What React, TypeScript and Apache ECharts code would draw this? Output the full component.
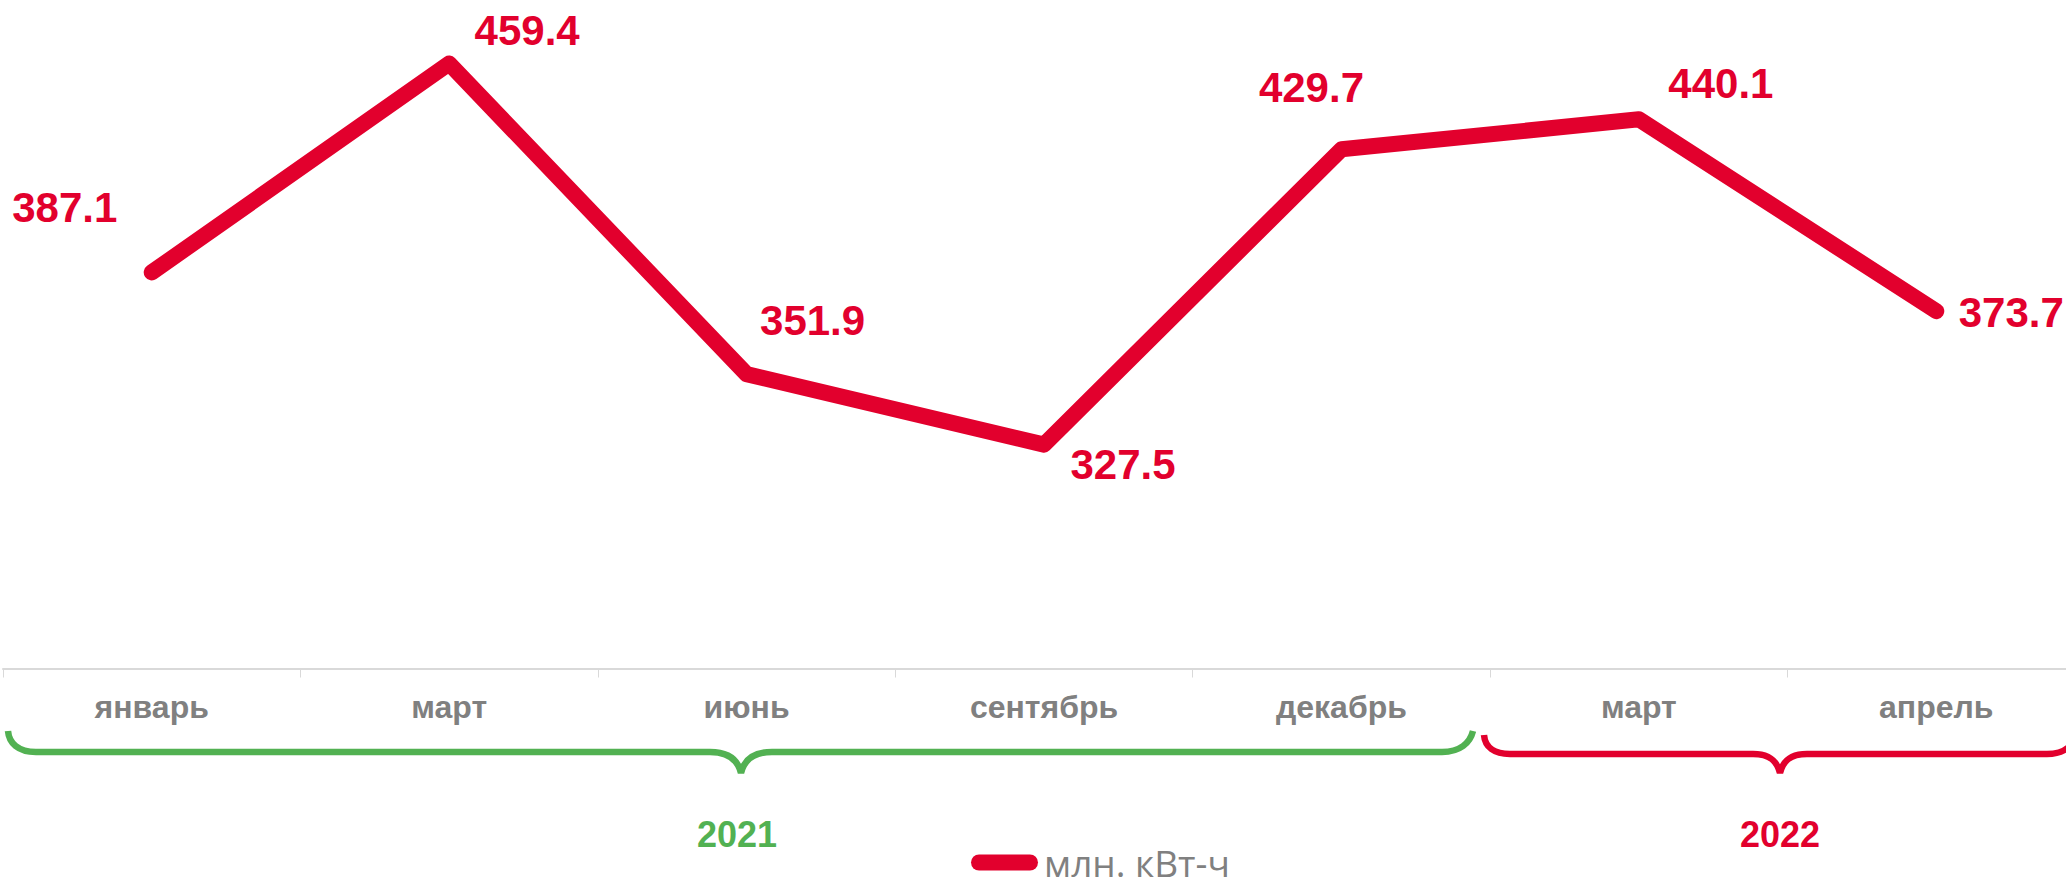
import React, { useEffect, useRef } from "react";
import * as echarts from "echarts";

const categories = ["январь", "март", "июнь", "сентябрь", "декабрь", "март", "апрель"];
const values = [387.1, 459.4, 351.9, 327.5, 429.7, 440.1, 373.7];
const seriesName = "млн. кВт-ч";
const years = ["2021", "2022"];
const labelOffsets = [[-87, -65], [78, -33], [66, -54], [79, 20], [-30, -62], [82, -36], [75, 1]];

const RED = "#E2002D";
const GREEN = "#52B152";
const GREY = "#808080";

const braceGreen = "M8 731 C9 743 18 752 36 752 L710 752 C728 752 738 760 741 773 C744 760 754 752 772 752 L1442 752 C1460 752 1470 743 1473 731";
const braceRed = "M1484 735 C1485 747 1494 754 1510 754 L1753 754 C1770 754 1777 761 1780 773 C1783 761 1790 754 1807 754 L2047 754 C2060 754 2072 749 2076 735";

echarts.graphic.registerShape("braceGreen", echarts.graphic.extendPath(braceGreen, {}) as any);
echarts.graphic.registerShape("braceRed", echarts.graphic.extendPath(braceRed, {}) as any);

export default function App() {
  const ref = useRef<HTMLDivElement>(null);
  useEffect(() => {
    const chart = echarts.init(ref.current!, undefined, { renderer: "svg" });
    chart.setOption({
      animation: false,
      backgroundColor: "#fff",
      grid: { left: 3, top: 4, width: 2082, height: 664.5, containLabel: false },
      legend: {
        left: 971,
        top: 844,
        padding: 0,
        itemWidth: 67,
        itemHeight: 16,
        itemGap: 8,
        icon: "path://M8 0H59A8 8 0 0 1 59 16H8A8 8 0 0 1 8 0Z",
        textStyle: { color: GREY, fontFamily: "Open Sans", fontSize: 37, padding: [5, 0, 0, 1] },
        data: [seriesName],
      },
      xAxis: {
        type: "category",
        data: categories,
        boundaryGap: true,
        axisLine: { lineStyle: { color: "#D9D9D9", width: 2 } },
        axisTick: { show: true, length: 9, lineStyle: { color: "#D9D9D9", width: 1 } },
        axisLabel: {
          interval: 0,
          margin: 22,
          color: GREY,
          fontFamily: "Liberation Sans",
          fontWeight: "bold",
          fontSize: 32,
        },
      },
      yAxis: { type: "value", min: 250, max: 480, show: false, splitLine: { show: false } },
      series: [
        {
          name: seriesName,
          type: "line",
          symbol: "circle",
          symbolSize: 1,
          itemStyle: { color: RED },
          lineStyle: { color: RED, width: 16, cap: "round", join: "round" },
          data: values.map((v, i) => ({
            value: v,
            label: {
              show: true,
              position: "inside",
              align: "center",
              verticalAlign: "middle",
              offset: labelOffsets[i],
              formatter: (p: any) => Number(p.value).toFixed(1),
              color: RED,
              fontFamily: "Liberation Sans",
              fontWeight: "bold",
              fontSize: 42,
            },
          })),
        },
      ],
      graphic: [
        { type: "braceGreen", x: 0, y: 0, silent: true, style: { fill: "none", stroke: GREEN, lineWidth: 6.5 } },
        { type: "braceRed", x: 0, y: 0, silent: true, style: { fill: "none", stroke: RED, lineWidth: 6.5 } },
        {
          type: "text", x: 737, y: 834, silent: true,
          style: { text: years[0], fill: GREEN, font: "bold 36px 'Liberation Sans'", textAlign: "center", textVerticalAlign: "middle" },
        },
        {
          type: "text", x: 1780, y: 834, silent: true,
          style: { text: years[1], fill: RED, font: "bold 36px 'Liberation Sans'", textAlign: "center", textVerticalAlign: "middle" },
        },
      ],
    });
    return () => chart.dispose();
  }, []);
  return (
    <div style={{ position: "absolute", left: 0, top: 0, width: 2066, height: 878, overflow: "hidden", background: "#fff" }}>
      <div ref={ref} style={{ width: 2200, height: 878 }} />
    </div>
  );
}
